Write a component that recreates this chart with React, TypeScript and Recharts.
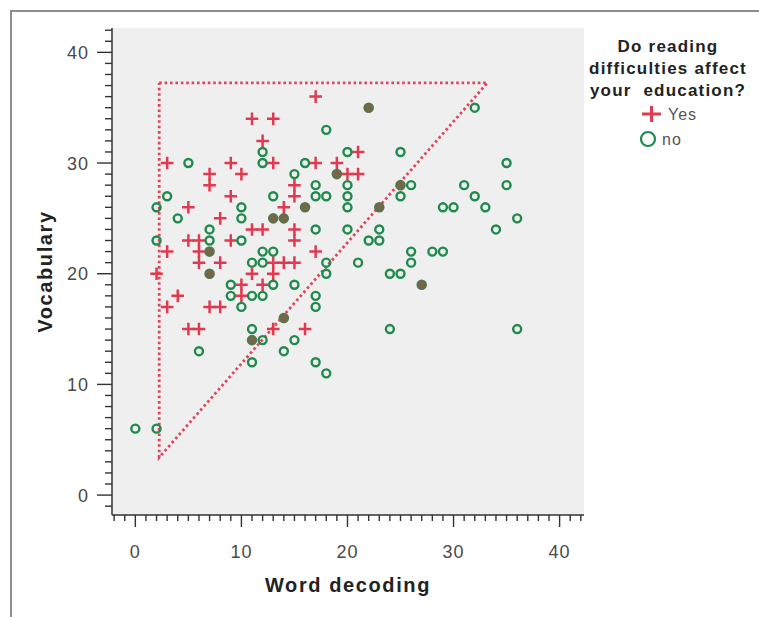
import { CartesianGrid, Legend, Scatter, ScatterChart, XAxis, YAxis } from 'recharts'

type Pair = [number, number]

// word decoding / vocabulary scores
const YES: Pair[] = [
  [17, 36], [11, 34], [13, 34], [12, 32], [3, 30], [9, 30], [13, 30], [17, 30],
  [19, 30], [21, 31], [7, 29], [10, 29], [20, 29], [21, 29], [7, 28], [15, 28],
  [9, 27], [15, 27], [5, 26], [14, 26], [8, 25], [11, 24], [12, 24], [15, 24],
  [5, 23], [6, 23], [9, 23], [15, 23], [3, 22], [6, 22], [17, 22], [6, 21],
  [8, 21], [13, 21], [14, 21], [15, 21], [2, 20], [11, 20], [13, 20], [10, 19],
  [12, 19], [4, 18], [10, 18], [3, 17], [7, 17], [8, 17], [5, 15], [6, 15],
  [13, 15], [16, 15],
]

const NO: Pair[] = [
  [18, 33], [12, 31], [20, 31], [25, 31], [32, 35], [5, 30], [12, 30], [16, 30],
  [35, 30], [15, 29], [17, 28], [20, 28], [26, 28], [31, 28], [35, 28], [3, 27],
  [13, 27], [17, 27], [18, 27], [20, 27], [25, 27], [32, 27], [2, 26], [10, 26],
  [20, 26], [29, 26], [30, 26], [33, 26], [4, 25], [10, 25], [36, 25], [7, 24],
  [17, 24], [20, 24], [23, 24], [34, 24], [2, 23], [7, 23], [10, 23], [22, 23],
  [23, 23], [12, 22], [13, 22], [26, 22], [28, 22], [29, 22], [11, 21], [12, 21],
  [18, 21], [21, 21], [26, 21], [18, 20], [24, 20], [25, 20], [9, 19], [13, 19],
  [15, 19], [9, 18], [11, 18], [12, 18], [17, 18], [10, 17], [17, 17], [11, 15],
  [24, 15], [36, 15], [12, 14], [15, 14], [6, 13], [14, 13], [11, 12], [17, 12],
  [18, 11], [0, 6], [2, 6],
]

// spots where a Yes and a no case sit on top of each other (drawn brown)
const BOTH: Pair[] = [
  [22, 35], [19, 29], [25, 28], [16, 26], [23, 26], [13, 25], [14, 25], [7, 22],
  [7, 20], [27, 19], [14, 16], [11, 14],
]

// dotted triangle drawn over the plot
const TRIANGLE: Pair[] = [[2.25, 37.25], [33.2, 37.25], [2.25, 3.4], [2.25, 37.25]]

const X_DOMAIN = [-2.2, 42.3]
const Y_DOMAIN = [-1.8, 42.2]
const MAJOR_TICKS = [0, 10, 20, 30, 40]
const X_TICKS = Array.from({ length: 45 }, (_, i) => i - 2)
const Y_TICKS = Array.from({ length: 44 }, (_, i) => i - 1)
const LEGEND_TITLE = ['Do reading', 'difficulties affect', 'your  education?']

const RED = '#e13a50'
const GREEN = '#1f8a4d'
const FONT = '"Liberation Sans", Arial, sans-serif'

const toPts = (rows: Pair[]) => rows.map(([x, y]) => ({ x, y }))

function XTick({ x, y, payload }: any) {
  const major = MAJOR_TICKS.includes(payload.value)
  return (
    <g>
      <line x1={x} x2={x} y1={y} y2={y + (major ? 12 : 6)} stroke="#333" strokeWidth={1.4} />
      {major && (
        <text x={x} y={y + 43} textAnchor="middle" fontSize={18} fill="#4a4a4a" fontFamily={FONT} letterSpacing={1}>
          {payload.value}
        </text>
      )}
    </g>
  )
}

function YTick({ x, y, payload }: any) {
  const major = MAJOR_TICKS.includes(payload.value)
  return (
    <g>
      <line x1={x - (major ? 15 : 7)} x2={x} y1={y} y2={y} stroke="#333" strokeWidth={1.4} />
      {major && (
        <text x={x - 23} y={y + 6.5} textAnchor="end" fontSize={18} fill="#4a4a4a" fontFamily={FONT} letterSpacing={1}>
          {payload.value}
        </text>
      )}
    </g>
  )
}

const Plus = ({ cx, cy }: any) => (
  <path d={`M${cx - 6.3},${cy}h12.6M${cx},${cy - 6.3}v12.6`} stroke={RED} strokeWidth={2.5} fill="none" />
)
const Ring = ({ cx, cy }: any) => (
  <circle cx={cx} cy={cy} r={4} fill="none" stroke={GREEN} strokeWidth={2.4} />
)
const Both = ({ cx, cy }: any) => (
  <circle cx={cx} cy={cy} r={4.2} fill="#7a6549" stroke="#57744c" strokeWidth={2.2} />
)
const NoDot = () => <g />

function LegendBox({ payload }: any) {
  const rows = (payload ?? []).filter((e: any) => e.type !== 'none')
  return (
    <svg width={179} height={150} style={{ display: 'block' }}>
      {LEGEND_TITLE.map((t, i) => (
        <text
          key={t}
          x={88}
          y={32 + i * 22}
          textAnchor="middle"
          fontSize={17}
          fontWeight="bold"
          fill="#222"
          fontFamily={FONT}
          letterSpacing={1.2}
          style={{ whiteSpace: 'pre' }}
        >
          {t}
        </text>
      ))}
      {rows.map((e: any, i: number) => {
        const cy = 94 + i * 25
        return (
          <g key={e.value}>
            {e.value === 'Yes' ? (
              <path d={`M62,${cy}h19M71.5,${cy - 8}v16`} stroke={RED} strokeWidth={3} fill="none" />
            ) : (
              <circle cx={68} cy={cy} r={7} fill="none" stroke={GREEN} strokeWidth={2.2} />
            )}
            <text x={e.value === 'Yes' ? 88 : 82} y={cy + 6} fontSize={16} fill="#555" fontFamily={FONT} letterSpacing={1}>
              {e.value}
            </text>
          </g>
        )
      })}
    </svg>
  )
}

export default function App() {
  return (
    <div style={{ position: 'absolute', left: 0, top: 0, width: 759, height: 617, background: '#fff' }}>
      <div
        style={{
          position: 'absolute',
          left: 10,
          top: 10,
          width: 749,
          height: 607,
          borderTop: '2px solid #8e8e8e',
          borderLeft: '2px solid #8e8e8e',
        }}
      />
      <ScatterChart
        width={759}
        height={617}
        margin={{ top: 28, right: 175, bottom: 22, left: 42 }}
        style={{ position: 'absolute', left: 0, top: 0 }}
      >
        <CartesianGrid fill="#efefef" stroke="transparent" />
        <XAxis
          dataKey="x"
          type="number"
          domain={X_DOMAIN}
          allowDataOverflow
          ticks={X_TICKS}
          interval={0}
          tick={<XTick />}
          tickLine={false}
          tickSize={0}
          tickMargin={0}
          height={80}
          axisLine={{ stroke: '#333', strokeWidth: 1.5 }}
          label={{
            value: 'Word decoding',
            position: 'insideBottom',
            offset: 3,
            fontSize: 20,
            fontWeight: 'bold',
            fill: '#222',
            fontFamily: FONT,
            letterSpacing: 1.6,
          }}
        />
        <YAxis
          dataKey="y"
          type="number"
          domain={Y_DOMAIN}
          allowDataOverflow
          ticks={Y_TICKS}
          interval={0}
          tick={<YTick />}
          tickLine={false}
          tickSize={0}
          tickMargin={0}
          width={70}
          axisLine={{ stroke: '#333', strokeWidth: 1.5 }}
          label={{
            value: 'Vocabulary',
            angle: -90,
            position: 'insideLeft',
            offset: 3,
            fontSize: 20,
            fontWeight: 'bold',
            fill: '#222',
            fontFamily: FONT,
            letterSpacing: 1.6,
            style: { textAnchor: 'middle' },
          }}
        />
        <XAxis
          xAxisId="frameTop"
          orientation="top"
          type="number"
          domain={[0, 1]}
          height={0}
          tick={false}
          tickLine={false}
          axisLine={{ stroke: '#5c5c5c', strokeWidth: 2 }}
        />
        <YAxis
          yAxisId="frameRight"
          orientation="right"
          type="number"
          domain={[0, 1]}
          width={0}
          tick={false}
          tickLine={false}
          axisLine={{ stroke: '#5c5c5c', strokeWidth: 2 }}
        />
        <Legend
          layout="horizontal"
          verticalAlign="middle"
          align="center"
          width={179}
          height={150}
          wrapperStyle={{ left: 580, top: 20, width: 179, height: 150 }}
          content={<LegendBox />}
        />
        <Scatter
          name="triangle"
          data={toPts(TRIANGLE)}
          legendType="none"
          shape={<NoDot />}
          line={{ stroke: '#e0465a', strokeWidth: 2.8, strokeDasharray: '2.6 2.8' }}
          isAnimationActive={false}
        />
        <Scatter name="Yes" data={toPts(YES)} fill={RED} shape={<Plus />} isAnimationActive={false} />
        <Scatter name="no" data={toPts(NO)} fill={GREEN} shape={<Ring />} isAnimationActive={false} />
        <Scatter
          name="both"
          data={toPts(BOTH)}
          legendType="none"
          shape={<Both />}
          isAnimationActive={false}
        />
      </ScatterChart>
    </div>
  )
}
